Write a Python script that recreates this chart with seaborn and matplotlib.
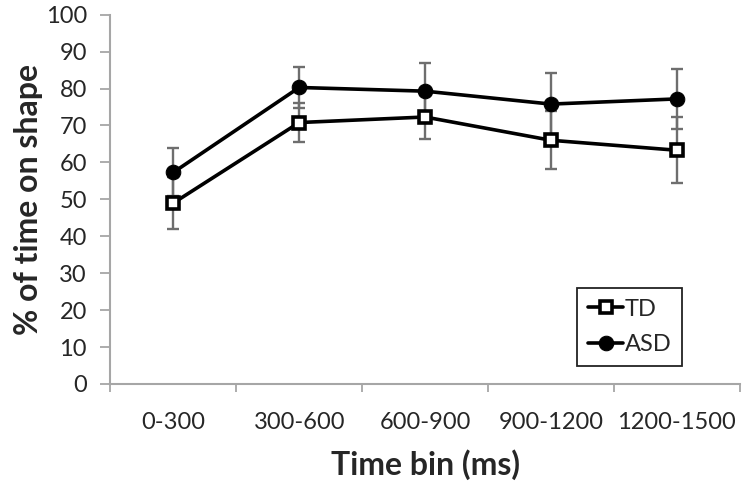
import seaborn as sns
import matplotlib.pyplot as plt
import pandas as pd
import numpy as np

# Data
time_bins = ['0-300', '300-600', '600-900', '900-1200', '1200-1500']
td_mean = [49.0, 70.8, 72.3, 66.0, 63.3]
td_err = [7.0, 5.3, 6.0, 7.8, 9.0]
asd_mean = [57.3, 80.3, 79.3, 75.8, 77.2]
asd_err = [6.5, 5.5, 7.5, 8.3, 8.2]

df = pd.DataFrame({
    'Time bin': time_bins * 2,
    'Percent': td_mean + asd_mean,
    'Group': ['TD'] * 5 + ['ASD'] * 5,
})

sns.set_style("white")
plt.rcParams['font.family'] = ['Lato', 'DejaVu Sans']

fig = plt.figure(figsize=(7.51, 4.91), dpi=100)
ax = fig.add_axes([0.147, 0.218, 0.838, 0.752])

x = np.arange(len(time_bins))
# error bars first so lines and markers sit on top
ax.errorbar(x, td_mean, yerr=td_err, fmt='none', ecolor='#6e6e6e',
            elinewidth=1.7, capsize=4, capthick=1.7, zorder=1)
ax.errorbar(x, asd_mean, yerr=asd_err, fmt='none', ecolor='#6e6e6e',
            elinewidth=1.7, capsize=4, capthick=1.7, zorder=1)

sns.lineplot(data=df, x='Time bin', y='Percent', hue='Group', style='Group',
             palette={'TD': 'black', 'ASD': 'black'},
             markers={'TD': 's', 'ASD': 'o'}, dashes=False, sort=False,
             linewidth=2.6, markersize=10, ax=ax, zorder=3)

# square markers are white filled with a heavy edge
for line in list(ax.lines) + list(ax.get_legend_handles_labels()[0]):
    if line.get_marker() == 's':
        line.set_markerfacecolor('white')
        line.set_markeredgecolor('black')
        line.set_markersize(8)
        line.set_markeredgewidth(2.6)
    elif line.get_marker() == 'o':
        line.set_markerfacecolor('black')
        line.set_markeredgecolor('black')
        line.set_markersize(10.5)

ax.set_xlim(-0.5, len(time_bins) - 0.5)
ax.set_ylim(0, 100)
ax.set_yticks(range(0, 101, 10))
ax.set_xticks(x)
ax.set_xticklabels(time_bins)
ax.set_xticks(np.arange(-0.5, len(time_bins), 1.0), minor=True)

ax.tick_params(axis='x', which='major', length=0, pad=20, labelsize=17)
ax.tick_params(axis='x', which='minor', length=6, width=1.3, color='#a6a6a6',
               direction='out', bottom=True)
ax.tick_params(axis='y', length=7, width=1.3, color='#a6a6a6',
               direction='out', left=True, labelsize=17, pad=10)

for side in ['top', 'right']:
    ax.spines[side].set_visible(False)
for side in ['left', 'bottom']:
    ax.spines[side].set_color('#a6a6a6')
    ax.spines[side].set_linewidth(1.5)

ax.set_xlabel('Time bin (ms)', fontsize=23, fontweight='bold', labelpad=12)
ax.set_ylabel('% of time on shape', fontsize=23, fontweight='bold', labelpad=2)

handles, labels = ax.get_legend_handles_labels()
leg = ax.legend(handles, labels, loc='lower right', bbox_to_anchor=(0.908, 0.05),
                fontsize=17, frameon=True, fancybox=False, framealpha=1,
                edgecolor='#222222', handlelength=1.5, handletextpad=0.05,
                borderpad=0.45, labelspacing=0.6, borderaxespad=0)
leg.get_frame().set_linewidth(1.3)

plt.savefig('out.png', dpi=100)
plt.close()
